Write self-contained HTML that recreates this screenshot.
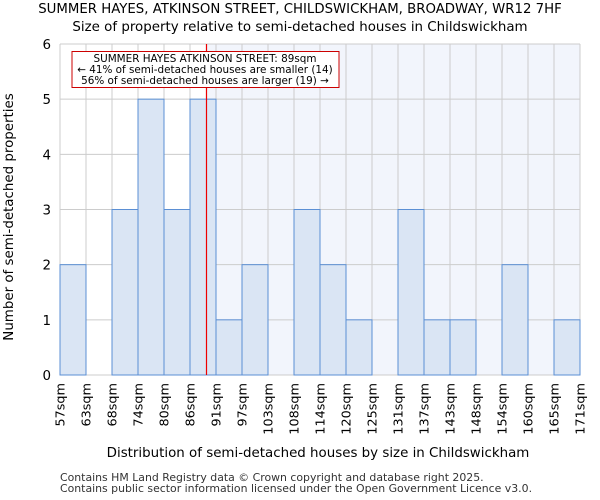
<!DOCTYPE html>
<html><head><meta charset="utf-8"><style>body{margin:0;background:#fff}svg{display:block;font-family:"DejaVu Sans","Liberation Sans",sans-serif}</style></head>
<body>
<svg id="c" width="600" height="500" xmlns="http://www.w3.org/2000/svg">
<text x="300" y="13" text-anchor="middle" font-size="13.3">SUMMER HAYES, ATKINSON STREET, CHILDSWICKHAM, BROADWAY, WR12 7HF</text>
<text x="300" y="31" text-anchor="middle" font-size="13.4">Size of property relative to semi-detached houses in Childswickham</text>
<g id="plot"></g>
<text x="318" y="457" text-anchor="middle" font-size="13.4">Distribution of semi-detached houses by size in Childswickham</text>
<text transform="translate(13,217) rotate(-90)" text-anchor="middle" font-size="13.4">Number of semi-detached properties</text>
<text x="60" y="481" font-size="10.9" fill="#333">Contains HM Land Registry data © Crown copyright and database right 2025.</text>
<text x="60" y="492" font-size="10.9" fill="#333">Contains public sector information licensed under the Open Government Licence v3.0.</text>
</svg>
<script>
const tickLabels=["57sqm","63sqm","68sqm","74sqm","80sqm","86sqm","91sqm","97sqm","103sqm","108sqm","114sqm","120sqm","125sqm","131sqm","137sqm","143sqm","148sqm","154sqm","160sqm","165sqm","171sqm"];
const counts=[2,0,3,5,3,5,1,2,0,3,2,1,0,3,1,1,0,2,0,1];
const yTicks=[0,1,2,3,4,5,6];
const markerBin=5.6;
const NS="http://www.w3.org/2000/svg";
const L=60,R=580,T=44,B=375;
const xs=i=>L+i*(R-L)/counts.length;
const ys=v=>B-v*(B-T)/6;
const g=document.getElementById('plot');
function mk(t,a){const e=document.createElementNS(NS,t);for(const k in a)e.setAttribute(k,a[k]);g.appendChild(e);return e;}
let e=mk('rect',{x:xs(markerBin),y:T,width:R-xs(markerBin),height:B-T,fill:'#f2f5fc'});


tickLabels.forEach((t,i)=>{let l=mk('line',{x1:xs(i),x2:xs(i),y1:T,y2:B,stroke:'#ccc'});


let tx=mk('text',{transform:`translate(${xs(i)+4.5},${B+8}) rotate(-90)`,'text-anchor':'end','font-size':'12.8'});tx.textContent=t;

});
yTicks.forEach(v=>{let l=mk('line',{x1:L,x2:R,y1:ys(v),y2:ys(v),stroke:'#ccc'});


let tx=mk('text',{x:L-9,y:ys(v)+5,'text-anchor':'end','font-size':'13.4'});tx.textContent=v;

});
counts.forEach((c,i)=>{if(!c)return;let r=mk('rect',{x:xs(i),y:ys(c),width:xs(i+1)-xs(i),height:B-ys(c),fill:'#dae5f4',stroke:'#5b8fd4','stroke-width':1});

});
const mx=Math.round(xs(markerBin))+0.5;
e=mk('line',{x1:mx,x2:mx,y1:T,y2:B,stroke:'#ee0000','stroke-width':1.2});


e=mk('rect',{x:72,y:51.5,width:267,height:36,fill:'#fff',stroke:'#cc0000'});


["SUMMER HAYES ATKINSON STREET: 89sqm","← 41% of semi-detached houses are smaller (14)","56% of semi-detached houses are larger (19) →"].forEach((s,i)=>{let t=mk('text',{x:205,y:62+i*11,'text-anchor':'middle','font-size':'10.4'});t.textContent=s;

});
</script>
</body></html>
